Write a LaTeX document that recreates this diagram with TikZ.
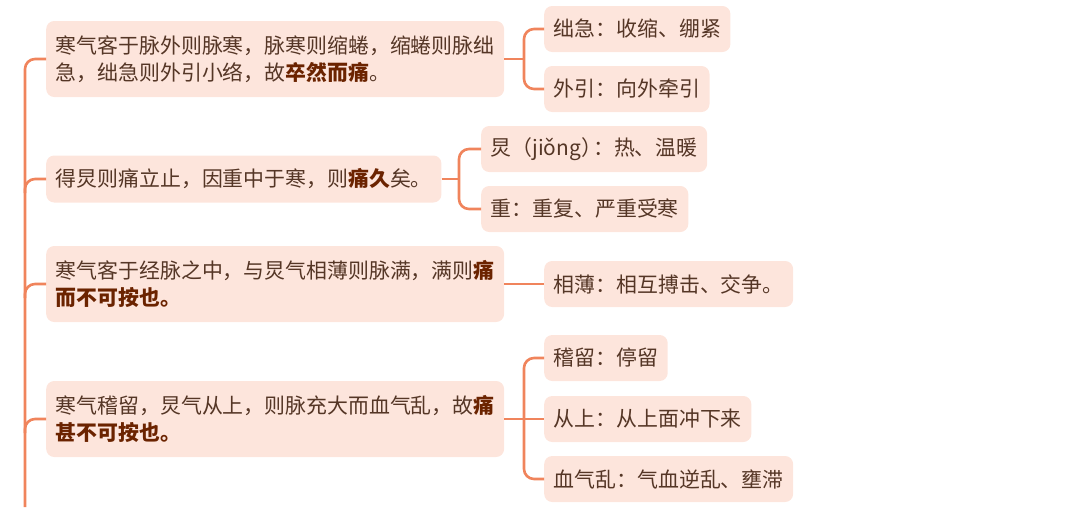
\documentclass[tikz,border=0pt]{standalone}
\usepackage{fontspec}
\setmainfont{Noto Sans CJK SC}
\usepackage{xcolor}
\usepackage{tikz}
\definecolor{branch}{HTML}{F0845C}
\definecolor{boxfill}{HTML}{FDE5DC}
\definecolor{bodytext}{HTML}{553626}
\definecolor{keytext}{HTML}{6B2300}
\newcommand{\keyterm}[1]{\textbf{\color{keytext}#1}}

\begin{document}
\begin{tikzpicture}[
x=1pt, y=-1pt,
font=\fontsize{20.9pt}{27pt}\selectfont,
mainbox/.style={
rectangle,
rounded corners=8pt,
fill=boxfill,
text=bodytext,
anchor=west,
align=left,
inner xsep=9.5pt,
inner ysep=0pt,
minimum height=47pt
},
twoline/.style={mainbox, minimum height=76pt},
leafbox/.style={mainbox, minimum height=46pt},
link/.style={draw=branch, line width=2.6pt, rounded corners=10pt}
]

\useasboundingbox (0,0) rectangle (1080,507);

% main points
\node[twoline] (cold) at (46,59)
{寒气客于脉外则脉寒，脉寒则缩蜷，缩蜷则脉绌\\急，绌急则外引小络，故\keyterm{卒然而痛}。};
\node[mainbox] (hot) at (46,179)
{得炅则痛立止，因重中于寒，则\keyterm{痛久}矣。};
\node[twoline] (clash) at (46,284)
{寒气客于经脉之中，与炅气相薄则脉满，满则\keyterm{痛}\\\keyterm{而不可按也。}};
\node[twoline] (stay) at (46,419)
{寒气稽留，炅气从上，则脉充大而血气乱，故\keyterm{痛}\\\keyterm{甚不可按也。}};

% word notes
\node[leafbox] (jiji) at (544,29) {绌急：收缩、绷紧};
\node[leafbox] (waiyin) at (544,89) {外引：向外牵引};
\node[leafbox] (jiong) at (481,149) {炅（jiǒng）\kern-9pt：热、温暖};
\node[leafbox] (zhong) at (481,209) {重：重复、严重受寒};
\node[leafbox] (xiangbo) at (544,284) {相薄：相互搏击、交争。};
\node[leafbox] (jiliu) at (544,358) {稽留：停留};
\node[leafbox] (congshang) at (544,419) {从上：从上面冲下来};
\node[leafbox] (xueqi) at (544,479) {血气乱：气血逆乱、壅滞};

\coordinate (spine) at (25,507);
\coordinate (fork1) at (524,0);
\coordinate (fork2) at (459,0);
\coordinate (fork4) at (524,0);

% trunk
\draw[link] (cold.west) -| (spine);
\draw[link] ([yshift=-14pt]spine |- hot.west) -- (spine |- hot.west) -- (hot.west);
\draw[link] ([yshift=-14pt]spine |- clash.west) -- (spine |- clash.west) -- (clash.west);
\draw[link] ([yshift=-14pt]spine |- stay.west) -- (spine |- stay.west) -- (stay.west);

% notes
\draw[link] (cold.east) -- (cold.east -| fork1);
\draw[link] (jiji.west) -| (fork1 |- cold.east) |- (waiyin.west);
\draw[link] (hot.east) -- (hot.east -| fork2);
\draw[link] (jiong.west) -| (fork2 |- hot.east) |- (zhong.west);
\draw[link] (clash.east) -- (xiangbo.west);
\draw[link] (stay.east) -- (congshang.west);
\draw[link] (jiliu.west) -| (fork4 |- stay.east) |- (xueqi.west);

\end{tikzpicture}
\end{document}
